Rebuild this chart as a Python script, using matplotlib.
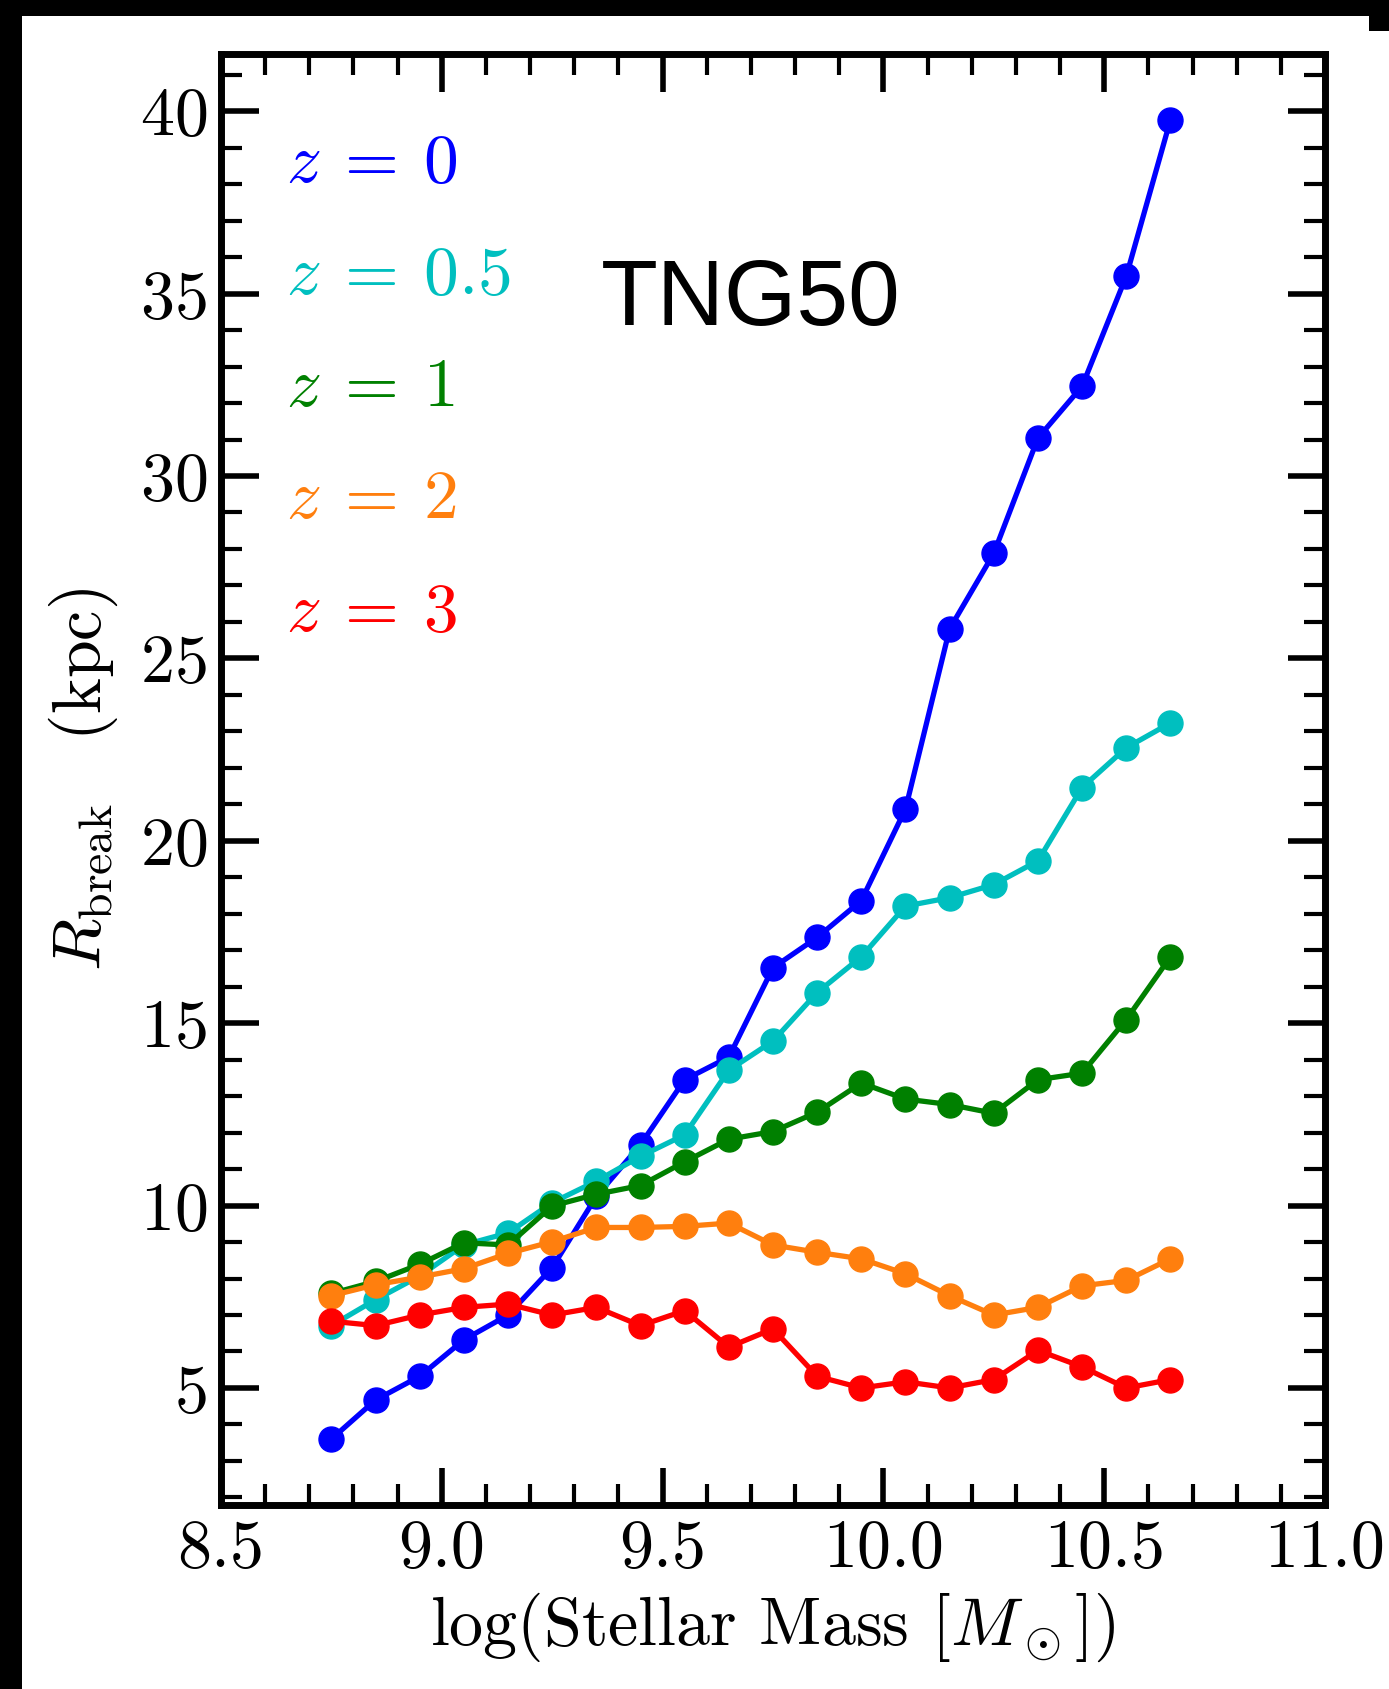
import matplotlib
matplotlib.use("Agg")
import matplotlib.pyplot as plt
from matplotlib.patches import Rectangle
from matplotlib.ticker import MultipleLocator

plt.rcParams["font.family"] = "serif"
plt.rcParams["font.serif"] = ["cmr10"]
plt.rcParams["mathtext.fontset"] = "cm"
plt.rcParams["axes.formatter.use_mathtext"] = True

# stellar mass bins (log M*)
log_mass = [8.75, 8.85, 8.95, 9.05, 9.15, 9.25, 9.35, 9.45, 9.55, 9.65,
            9.75, 9.85, 9.95, 10.05, 10.15, 10.25, 10.35, 10.45, 10.55, 10.65]

# median break radius (kpc) per redshift
rbreak_z0 = [3.60, 4.67, 5.32, 6.32, 7.00, 8.30, 10.25, 11.67, 13.45, 14.07,
             16.52, 17.35, 18.36, 20.87, 25.81, 27.88, 31.04, 32.46, 35.48, 39.76]
rbreak_z05 = [6.71, 7.42, 8.07, 8.92, 9.25, 10.08, 10.67, 11.35, 11.94, 13.71,
              14.51, 15.84, 16.82, 18.21, 18.44, 18.80, 19.45, 21.46, 22.55, 23.23]
rbreak_z1 = [7.59, 7.92, 8.39, 8.98, 8.92, 9.99, 10.31, 10.55, 11.20, 11.82,
             12.03, 12.56, 13.36, 12.92, 12.77, 12.53, 13.45, 13.63, 15.10, 16.82]
rbreak_z2 = [7.53, 7.83, 8.04, 8.27, 8.69, 9.01, 9.40, 9.40, 9.43, 9.52,
             8.92, 8.72, 8.54, 8.13, 7.53, 7.00, 7.21, 7.80, 7.95, 8.54]
rbreak_z3 = [6.83, 6.71, 7.00, 7.21, 7.30, 7.00, 7.21, 6.71, 7.12, 6.12,
             6.62, 5.32, 5.00, 5.17, 5.00, 5.23, 6.03, 5.58, 5.00, 5.23]

labels = [r"$z\:=\:0$", r"$z\:=\:0.5$", r"$z\:=\:1$", r"$z\:=\:2$", r"$z\:=\:3$"]
colors = ["b", "c", "g", "#ff7f0e", "r"]
series = [rbreak_z0, rbreak_z05, rbreak_z1, rbreak_z2, rbreak_z3]

W, H = 1389, 1689
fig = plt.figure(figsize=(W / 100, H / 100), dpi=100, facecolor="black")
# white page with a black border on the top and left edges
fig.patches.append(Rectangle((22 / W, 0), 1 - 22 / W, 1 - 31 / H,
                             transform=fig.transFigure, facecolor="white",
                             edgecolor="none", zorder=-10))
fig.patches.append(Rectangle((22 / W, 1 - 31 / H), (1369 - 22) / W, 15 / H,
                             transform=fig.transFigure, facecolor="white",
                             edgecolor="none", zorder=-10))

ax = fig.add_axes([221 / W, 1 - 1505 / H, (1325 - 221) / W, (1505 - 54) / H])

for y, c in zip(series, colors):
    ax.plot(log_mass, y, "-o", color=c, lw=3.8, ms=18)

for i, (lab, c) in enumerate(zip(labels, colors)):
    ax.text(0.059, 0.924 - 0.0773 * i, lab, color=c, fontsize=50,
            transform=ax.transAxes, ha="left", va="center")

ax.text(0.48, 0.83, "TNG50", fontsize=67, family="Liberation Sans",
        transform=ax.transAxes, ha="center", va="center")

ax.set_xlim(8.5, 11.0)
ax.xaxis.set_major_locator(MultipleLocator(0.5))
ax.xaxis.set_minor_locator(MultipleLocator(0.1))
ax.yaxis.set_major_locator(MultipleLocator(5))
ax.yaxis.set_minor_locator(MultipleLocator(1))
ax.xaxis.set_major_formatter(plt.FormatStrFormatter("%.1f"))

ax.tick_params(which="both", direction="in", top=True, right=True,
               labelsize=49)
ax.tick_params(which="major", length=27, width=4, pad=10)
ax.tick_params(which="minor", length=15, width=3)
for sp in ax.spines.values():
    sp.set_linewidth(5)

ax.set_xlabel(r"log(Stellar Mass $[M_\odot]$)", fontsize=49, labelpad=8)
ax.set_ylabel(r"$R_{\rm break}\quad(\rm kpc)$", fontsize=49, labelpad=14)

fig.savefig("out.png", dpi=100, facecolor=fig.get_facecolor())
